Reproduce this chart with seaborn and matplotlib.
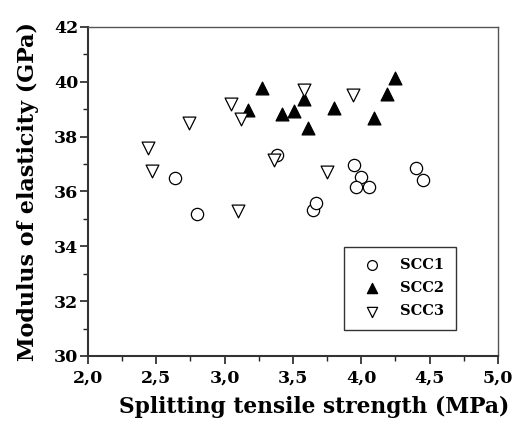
import matplotlib
matplotlib.use("Agg")
import matplotlib.pyplot as plt
from matplotlib.ticker import MultipleLocator, FuncFormatter
import seaborn as sns
import pandas as pd

# Splitting tensile strength (MPa) vs. modulus of elasticity (GPa)
scc1_x = [2.64, 2.80, 3.38, 3.65, 3.67, 3.95, 4.00, 3.96, 4.06, 4.40, 4.45]
scc1_y = [36.50, 35.18, 37.32, 35.31, 35.58, 36.97, 36.52, 36.15, 36.18, 36.87, 36.42]

scc2_x = [3.17, 3.27, 3.42, 3.51, 3.58, 3.61, 3.80, 4.09, 4.19, 4.25]
scc2_y = [38.97, 39.79, 38.81, 38.93, 39.38, 38.31, 39.04, 38.69, 39.56, 40.15]

scc3_x = [2.44, 2.47, 2.74, 3.05, 3.12, 3.10, 3.36, 3.58, 3.94, 3.75]
scc3_y = [37.57, 36.74, 38.50, 39.20, 38.65, 35.30, 37.14, 39.70, 39.52, 36.70]

series = ["SCC1", "SCC2", "SCC3"]

df = pd.concat([
    pd.DataFrame({"x": scc1_x, "y": scc1_y, "mix": "SCC1"}),
    pd.DataFrame({"x": scc2_x, "y": scc2_y, "mix": "SCC2"}),
    pd.DataFrame({"x": scc3_x, "y": scc3_y, "mix": "SCC3"}),
])

sns.set_style("ticks")
plt.rcParams["font.family"] = ["DejaVu Serif"]
plt.rcParams["font.weight"] = "bold"
plt.rcParams["text.color"] = "black"
plt.rcParams["axes.labelcolor"] = "black"

fig = plt.figure(figsize=(5.16, 4.21), dpi=100)
ax = fig.add_axes([0.1705, 0.1544, 0.7945, 0.7816])

styles = {
    "SCC1": dict(marker="o", s=78, facecolor="white", edgecolor="black", linewidth=0.9),
    "SCC2": dict(marker="^", s=85, facecolor="black", edgecolor="black", linewidth=0.9),
    "SCC3": dict(marker="v", s=85, facecolor="white", edgecolor="black", linewidth=0.9),
}
for name in series:
    sub = df[df["mix"] == name]
    sns.scatterplot(data=sub, x="x", y="y", ax=ax, legend=False, label=name,
                    **styles[name])

ax.set_xlim(2.0, 5.0)
ax.set_ylim(30, 42)
ax.xaxis.set_major_locator(MultipleLocator(0.5))
ax.xaxis.set_minor_locator(MultipleLocator(0.25))
ax.yaxis.set_major_locator(MultipleLocator(2))
ax.yaxis.set_minor_locator(MultipleLocator(1))
ax.xaxis.set_major_formatter(FuncFormatter(lambda v, p: f"{v:.1f}".replace(".", ",")))
ax.yaxis.set_major_formatter(FuncFormatter(lambda v, p: f"{v:.0f}"))

ax.tick_params(which="major", direction="out", length=6, width=1.2, colors="#222222",
               labelcolor="black", labelsize=12.5)
ax.tick_params(axis="y", which="major", pad=1)
ax.tick_params(axis="x", which="major", pad=4)
ax.tick_params(which="minor", direction="out", length=3.5, width=1.0, colors="#222222")
for lab in ax.get_xticklabels() + ax.get_yticklabels():
    lab.set_fontweight("bold")

for side in ["left", "bottom"]:
    ax.spines[side].set_linewidth(1.5)
    ax.spines[side].set_color("#333333")
for side in ["top", "right"]:
    ax.spines[side].set_linewidth(1.0)
    ax.spines[side].set_color("#555555")
    ax.spines[side].set_visible(True)

ax.set_xlabel("Splitting tensile strength (MPa)", fontsize=15.7, fontweight="bold",
              color="black")
ax.set_ylabel("Modulus of elasticity (GPa)", fontsize=16, fontweight="bold",
              color="black")
ax.xaxis.set_label_coords(0.552, -0.12)
ax.yaxis.set_label_coords(-0.12, 0.5)

leg = ax.legend(loc="lower right", bbox_to_anchor=(0.8976, 0.079), borderaxespad=0,
                frameon=True, fancybox=False, edgecolor="black",
                handlelength=2.2, handletextpad=0.85, borderpad=0.8,
                labelspacing=0.62, markerscale=0.8,
                prop={"weight": "bold", "size": 10.5})
leg.get_frame().set_linewidth(1.0)
for t in leg.get_texts():
    t.set_color("black")

fig.savefig("out.png", dpi=100)
